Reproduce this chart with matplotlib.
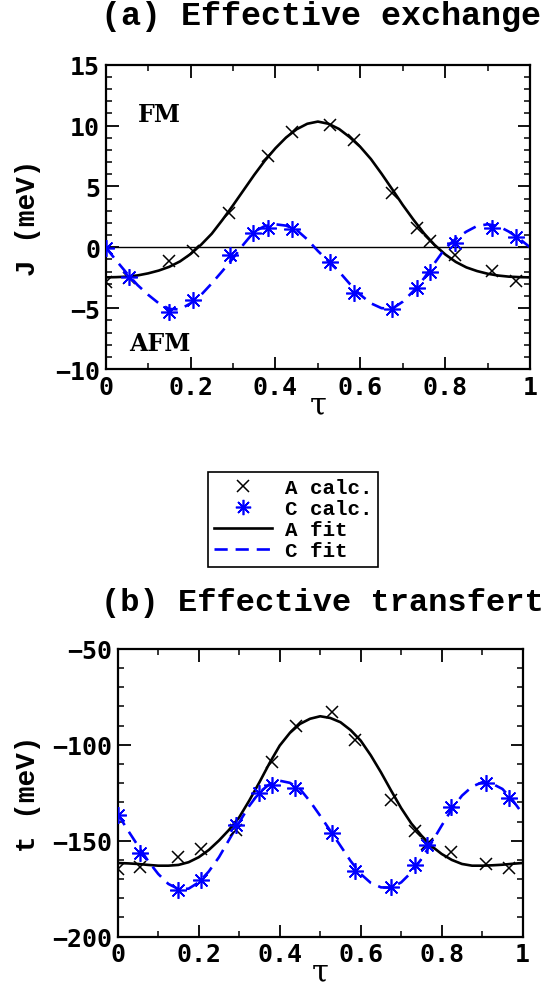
import matplotlib
matplotlib.use('Agg')
import matplotlib.pyplot as plt
from matplotlib.lines import Line2D
from matplotlib.ticker import MultipleLocator

# ---------------- data ----------------
# calculated points, panel (a)
tau_A = [0.0, 0.056, 0.148, 0.205, 0.291, 0.382, 0.440, 0.529, 0.586, 0.674, 0.733, 0.764, 0.822, 0.910, 0.967]
J_A = [-2.82, -2.55, -1.10, -0.30, 2.79, 7.53, 9.51, 10.05, 8.82, 4.44, 1.56, 0.52, -0.63, -1.95, -2.77]
tau_C = [0.0, 0.056, 0.148, 0.205, 0.293, 0.348, 0.382, 0.438, 0.529, 0.586, 0.674, 0.733, 0.764, 0.822, 0.910, 0.967]
J_C = [-0.05, -2.45, -5.29, -4.33, -0.63, 1.20, 1.62, 1.48, -1.18, -3.73, -5.07, -3.37, -2.00, 0.38, 1.62, 0.88]

# calculated points, panel (b)
t_A = [-164.7, -163.9, -158.6, -154.3, -144.2, -108.8, -90.0, -82.7, -97.3, -128.7, -144.7, -151.7, -156.0, -162.1, -164.4]
t_C = [-136.4, -156.4, -175.5, -170.3, -141.8, -125.1, -120.7, -122.5, -145.9, -165.6, -174.3, -162.6, -152.2, -132.6, -119.9, -127.7]

# fit curves (tau step 0.025)
tau_fit = [0.000, 0.025, 0.050, 0.075, 0.100, 0.125, 0.150, 0.175, 0.200, 0.225,
           0.250, 0.275, 0.300, 0.325, 0.350, 0.375, 0.400, 0.425, 0.450, 0.475,
           0.500, 0.525, 0.550, 0.575, 0.600, 0.625, 0.650, 0.675, 0.700, 0.725,
           0.750, 0.775, 0.800, 0.825, 0.850, 0.875, 0.900, 0.925, 0.950, 0.975, 1.000]
J_A_fit = [-2.47, -2.45, -2.41, -2.31, -2.14, -1.91, -1.60, -1.16, -0.55, 0.22,
           1.12, 2.25, 3.45, 4.70, 5.95, 7.12, 8.14, 9.02, 9.70, 10.15,
           10.33, 10.15, 9.72, 9.05, 8.25, 7.25, 6.05, 4.78, 3.48, 2.28,
           1.15, 0.20, -0.58, -1.20, -1.65, -1.95, -2.17, -2.32, -2.41, -2.45, -2.47]
J_C_fit = [0.00, -1.10, -2.14, -3.10, -3.90, -4.60, -5.07, -5.10, -4.60, -3.90,
           -2.96, -1.95, -0.90, 0.25, 1.29, 1.75, 1.89, 1.78, 1.42, 0.65,
           -0.30, -1.15, -2.00, -3.00, -3.90, -4.60, -5.00, -5.05, -4.47, -3.60,
           -2.55, -1.30, -0.08, 0.70, 1.29, 1.75, 1.89, 1.75, 1.29, 0.70, 0.00]
t_A_fit = [-161.6, -161.8, -162.1, -162.6, -163.0, -163.0, -162.6, -161.2, -158.6, -154.8,
           -149.9, -144.3, -137.8, -129.0, -119.5, -109.5, -100.4, -93.8, -89.1, -86.4,
           -85.1, -86.0, -88.2, -92.3, -97.8, -105.5, -114.3, -123.8, -133.0, -141.0,
           -147.3, -152.8, -156.9, -160.0, -162.1, -163.0, -163.0, -162.8, -162.5, -162.0, -161.6]
t_C_fit = [-136.0, -144.5, -152.6, -160.5, -167.3, -172.5, -175.2, -175.0, -171.7, -166.0,
           -158.6, -149.5, -140.4, -131.8, -124.7, -120.5, -118.7, -119.8, -123.0, -129.5,
           -137.0, -144.8, -152.6, -160.5, -167.3, -172.0, -174.3, -174.5, -171.7, -166.5,
           -159.5, -151.0, -142.1, -133.5, -126.5, -121.8, -119.5, -120.3, -123.0, -128.8, -136.0]

xtick_vals = [0, 0.2, 0.4, 0.6, 0.8, 1.0]
xtick_labels = ["0", "0.2", "0.4", "0.6", "0.8", "1"]
legend_labels = ["A calc.", "C calc.", "A fit", "C fit"]

# ---------------- styling ----------------
plt.rcParams['font.weight'] = 'bold'
BLUE = '#0000ff'
MONO = 'Liberation Mono'
TICKFONT = 'DejaVu Sans Mono'
star = (8, 2, 0)

fig = plt.figure(figsize=(5.57, 9.87), dpi=100)
axa = fig.add_axes([0.1898, 0.6251, 0.7618, 0.3083])
axb = fig.add_axes([0.2113, 0.0500, 0.7271, 0.2915])


def style(ax, ymin, ymax, ymaj, ymin_step):
    ax.set_xlim(0, 1)
    ax.set_ylim(ymin, ymax)
    ax.set_xticks(xtick_vals)
    ax.set_xticklabels(xtick_labels)
    ax.xaxis.set_minor_locator(MultipleLocator(0.1))
    ax.yaxis.set_major_locator(MultipleLocator(ymaj))
    ax.yaxis.set_minor_locator(MultipleLocator(ymin_step))
    for s in ax.spines.values():
        s.set_linewidth(1.6)
    ax.tick_params(which='both', direction='in', top=True, right=True)
    ax.tick_params(which='major', length=9, width=1.3, pad=4,
                   labelsize=18, labelfontfamily=TICKFONT)
    ax.tick_params(which='minor', length=4.5, width=1.1)
    for lab in ax.get_xticklabels() + ax.get_yticklabels():
        lab.set_fontweight('bold')


# panel (a)
axa.axhline(0, color='black', lw=1.0, zorder=1)
axa.plot(tau_fit, J_A_fit, color='black', lw=1.9, zorder=2)
axa.plot(tau_fit, J_C_fit, color=BLUE, lw=1.9, linestyle=(0, (5, 3)), zorder=2)
axa.plot(tau_A, J_A, linestyle='none', marker='x', ms=9, mew=1.1, color='black', zorder=3)
axa.plot(tau_C, J_C, linestyle='none', marker=star, ms=12, mew=1.2, color=BLUE, zorder=3)
style(axa, -10, 15, 5, 1)
axa.text(0.076, 10.35, "FM", family='DejaVu Serif', fontweight='bold', fontsize=17,
         ha='left', va='baseline')
axa.text(0.055, -8.46, "AFM", family='DejaVu Serif', fontweight='bold', fontsize=17,
         ha='left', va='baseline')

# panel (b)
axb.plot(tau_fit, t_A_fit, color='black', lw=1.9, zorder=2)
axb.plot(tau_fit, t_C_fit, color=BLUE, lw=1.9, linestyle=(0, (5, 3)), zorder=2)
axb.plot(tau_A, t_A, linestyle='none', marker='x', ms=9, mew=1.1, color='black', zorder=3)
axb.plot(tau_C, t_C, linestyle='none', marker=star, ms=12, mew=1.2, color=BLUE, zorder=3)
style(axb, -200, -50, 50, 10)

# axis labels
fig.text(28 / 557, 1 - 218 / 987, "J (meV)", rotation=90, ha='center', va='center',
         family=MONO, fontweight='bold', fontsize=20)
fig.text(28 / 557, 1 - 794 / 987, "t (meV)", rotation=90, ha='center', va='center',
         family=MONO, fontweight='bold', fontsize=20)
fig.text(318 / 557, 1 - 406 / 987, "τ", ha='center', va='center',
         family='DejaVu Serif', fontweight='normal', fontsize=22)
fig.text(320 / 557, 1 - 973 / 987, "τ", ha='center', va='center',
         family='DejaVu Serif', fontweight='normal', fontsize=22)

# titles
fig.text(101 / 557, 1 - 17 / 987, "(a) Effective exchange", ha='left', va='center',
         family=MONO, fontweight='bold', fontsize=24)
fig.text(101 / 557, 1 - 603 / 987, "(b) Effective transfert", ha='left', va='center',
         family=MONO, fontweight='bold', fontsize=23)

# legend
handles = [
    Line2D([], [], linestyle='none', marker='x', ms=8, mew=1.1, color='black'),
    Line2D([], [], linestyle='none', marker=star, ms=11, mew=1.2, color=BLUE),
    Line2D([], [], color='black', lw=1.9),
    Line2D([], [], color=BLUE, lw=1.9, linestyle=(0, (5, 3))),
]
leg = fig.legend(handles, legend_labels, loc='center', bbox_to_anchor=(0.526, 0.473),
                 prop={'family': MONO, 'weight': 'bold', 'size': 15},
                 frameon=True, fancybox=False, framealpha=1, edgecolor='black',
                 borderpad=0.3, labelspacing=0.1, handlelength=2.8, handletextpad=0.6,
                 borderaxespad=0)
leg.get_frame().set_linewidth(1.2)

fig.savefig('out.png', dpi=100)
